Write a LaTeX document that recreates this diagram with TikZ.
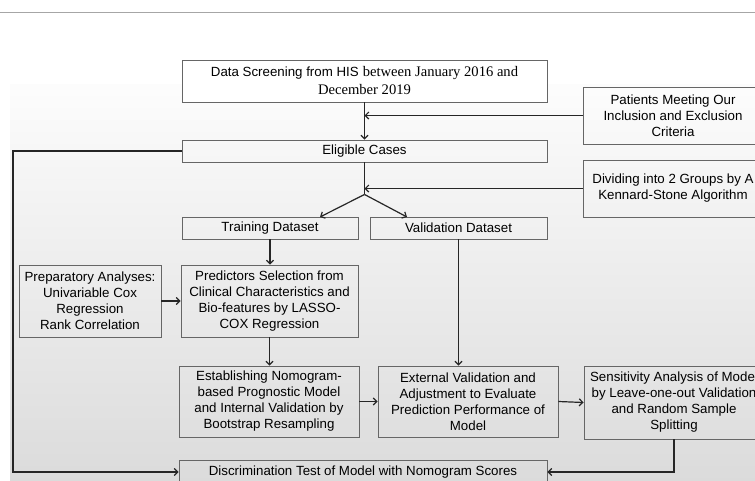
\documentclass[tikz,border=0pt]{standalone}
\usepackage{fontspec}
\setmainfont{Liberation Sans}
\newfontfamily\serifpart{Liberation Serif}
\usetikzlibrary{arrows.meta,positioning,calc}

\begin{document}
\begin{tikzpicture}[x=1pt, y=-1pt, >={Straight Barb[length=3.5pt,width=7pt]},
    box/.style={draw=black!60, line width=0.9pt, inner sep=0pt, align=center, font=\fontsize{13.3}{16}\selectfont},
    link/.style={line width=1.2pt, draw=black!85}]
    \clip (0,0) rectangle (755,480);
    % page background
    \draw[black!35, line width=1pt] (0,12) -- (755,12);
    \shade[top color=black!1, bottom color=black!14] (10,84) rectangle (755,480);

    % boxes
    \node[box, fill=white, minimum width=365, minimum height=42, font=\fontsize{14.6}{18}\selectfont] (screen) at (364.5,81)
        {{\fontsize{13.3}{18}\selectfont Data Screening from HIS} {\serifpart between January 2016 and}\\{\serifpart December 2019}};
    \node[box, minimum width=180, minimum height=57] (patients) at (673,115.5)
        {Patients Meeting Our\\Inclusion and Exclusion\\Criteria};
    \node[box, minimum width=365, minimum height=22] (eligible) at (364.5,151) {Eligible Cases};
    \node[box, minimum width=180, minimum height=57] (dividing) at (673,188.5)
        {Dividing into 2 Groups by A\\Kennard-Stone Algorithm};
    \node[box, minimum width=176, minimum height=22] (training) at (270,228) {Training Dataset};
    \node[box, minimum width=177, minimum height=22] (validation) at (458.5,228) {Validation Dataset};
    \node[box, minimum width=142, minimum height=72] (prep) at (90,301)
        {Preparatory Analyses:\\Univariable Cox\\Regression\\Rank Correlation};
    \node[box, minimum width=177, minimum height=72] (predict) at (269.5,301)
        {Predictors Selection from\\Clinical Characteristics and\\Bio-features by LASSO-\\COX Regression};
    \node[box, minimum width=180, minimum height=71] (establish) at (269,401.5)
        {Establishing Nomogram-\\based Prognostic Model\\and Internal Validation by\\Bootstrap Resampling};
    \node[box, minimum width=180, minimum height=71] (external) at (468,401.5)
        {External Validation and\\Adjustment to Evaluate\\Prediction Performance of\\Model};
    \node[box, minimum width=180, minimum height=73] (sensitivity) at (674,402.5)
        {Sensitivity Analysis of Model\\by Leave-one-out Validation\\and Random Sample\\Splitting};
    \node[box, minimum width=368, minimum height=24] (discrim) at (363,472)
        {Discrimination Test of Model with Nomogram Scores};

    % junctions
    \coordinate (fork) at ($(eligible.south)+(0,32)$);
    \coordinate (tIn) at (320,217);
    \coordinate (vIn) at (407,217);
    \coordinate (lcorner) at (13,151);

    % connectors
    \draw[link, ->] (screen.south) -- (eligible.north);
    \draw[link, ->] (patients.west) -- (patients.west -| screen.south);
    \draw[link] (eligible.south) -- (fork);
    \draw[link, ->] (dividing.west) -- (dividing.west -| fork);
    \draw[link, ->] (fork) -- (tIn);
    \draw[link, ->] (fork) -- (vIn);
    \draw[link, ->] (training.south) -- (training.south |- predict.north);
    \draw[link, ->] (prep.east) -- (predict.west);
    \draw[link, ->] (predict.south) -- (predict.south |- establish.north);
    \draw[link, ->] (validation.south) -- (validation.south |- external.north);
    \draw[link, ->] (establish.east) -- (external.west);
    \draw[link, ->] (external.east) -- (sensitivity.west);
    \draw[link, ->] (sensitivity.south) |- (discrim.east);
    \draw[link, ->] (eligible.west) -- (lcorner) |- (discrim.west);
\end{tikzpicture}
\end{document}
